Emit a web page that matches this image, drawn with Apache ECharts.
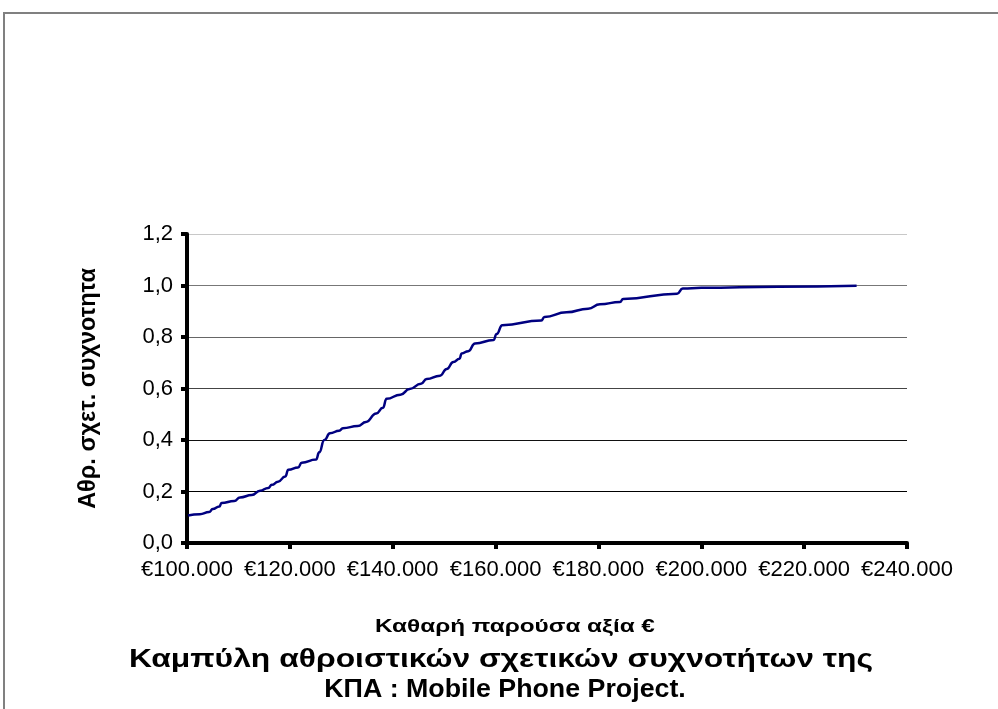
<!DOCTYPE html>
<html>
<head>
<meta charset="utf-8">
<script src="https://cdn.jsdelivr.net/npm/echarts@6/dist/echarts.min.js"></script>
<style>
  html, body { margin: 0; padding: 0; background: #fff; }
  #chart { width: 998px; height: 709px; }
</style>
</head>
<body>
<div id="chart"></div>
<script>
// Net present value (€) samples of the simulated project
const npvValues = [
  100200, 102500, 104300, 105000, 106300, 106700, 109200, 110300, 112600, 114200,
  115800, 116500, 117700, 119100, 119700, 121600, 122300, 125100, 125700, 126700,
  127800, 129600, 130300, 133200, 134800, 136800, 138100, 138800, 141500, 143300,
  145500, 146600, 149200, 150500, 151800, 153000, 153400, 154700, 156000, 159600,
  160200, 161300, 168900, 169500, 173800, 178000, 180300, 184200, 184800, 195300,
  196400, 200000, 215000, 230200
];
// Cumulative relative frequency at each NPV value
const cumFreq = [
  0.107, 0.112, 0.120, 0.132, 0.142, 0.155, 0.163, 0.177, 0.186, 0.203,
  0.214, 0.226, 0.238, 0.258, 0.284, 0.293, 0.312, 0.324, 0.352, 0.400,
  0.426, 0.436, 0.446, 0.454, 0.470, 0.503, 0.525, 0.560, 0.576, 0.598,
  0.618, 0.637, 0.650, 0.676, 0.703, 0.716, 0.736, 0.745, 0.775, 0.788,
  0.812, 0.846, 0.864, 0.878, 0.896, 0.910, 0.927, 0.936, 0.948, 0.968,
  0.988, 0.991, 0.995, 0.999
];
// Axis ranges
const xTicks = [100000, 120000, 140000, 160000, 180000, 200000, 220000, 240000];
const yTicks = [0, 0.2, 0.4, 0.6, 0.8, 1.0, 1.2];

const titleLines = ['Καμπύλη αθροιστικών σχετικών συχνοτήτων της', 'ΚΠΑ : Mobile Phone Project.'];
const xName = 'Καθαρή παρούσα αξία €';
const yName = 'Αθρ. σχετ. συχνοτητα';

const FONT = '"Liberation Sans", Arial, sans-serif';

const chart = echarts.init(document.getElementById('chart'), null, { renderer: 'canvas' });

chart.setOption({
  backgroundColor: '#ffffff',
  animation: false,
  graphic: [
    {
      // outer chart frame
      type: 'rect',
      shape: { x: 4, y: 13, width: 1010, height: 720 },
      style: { fill: 'none', stroke: '#808080', lineWidth: 2 },
      silent: true
    },
    {
      // x axis title, set in a slightly widened face
      type: 'text',
      x: 515, y: 627,
      scaleX: 1.28,
      style: {
        text: xName, x: 0, y: 0, align: 'center', verticalAlign: 'middle',
        font: 'bold 19px ' + FONT, fill: '#000'
      },
      silent: true
    },
    {
      // chart title, first line
      type: 'text',
      x: 501, y: 660,
      scaleX: 1.225,
      style: {
        text: titleLines[0], x: 0, y: 0, align: 'center', verticalAlign: 'middle',
        font: 'bold 26px ' + FONT, fill: '#000'
      },
      silent: true
    },
    {
      // chart title, second line
      type: 'text',
      x: 505, y: 690,
      scaleX: 1.03,
      style: {
        text: titleLines[1], x: 0, y: 0, align: 'center', verticalAlign: 'middle',
        font: 'bold 26px ' + FONT, fill: '#000'
      },
      silent: true
    }
  ],
  grid: { left: 187, right: 91, top: 234, bottom: 166 },
  xAxis: {
    type: 'value',
    min: xTicks[0],
    max: xTicks[xTicks.length - 1],
    interval: xTicks[1] - xTicks[0],
    axisLine: { show: true, lineStyle: { color: '#000', width: 4 } },
    axisTick: { show: true, inside: false, length: 6, lineStyle: { color: '#000', width: 4 } },
    axisLabel: {
      margin: 16,
      fontFamily: FONT, fontSize: 22, color: '#000',
      formatter: v => '€' + Math.round(v / 1000) + '.000'
    },
    splitLine: { show: false }
  },
  yAxis: {
    type: 'value',
    min: yTicks[0],
    max: yTicks[yTicks.length - 1],
    interval: 0.2,
    name: yName,
    nameLocation: 'middle',
    nameGap: 86,
    nameTextStyle: { fontFamily: FONT, fontSize: 23.5, fontWeight: 'bold', color: '#000' },
    axisLine: { show: true, lineStyle: { color: '#000', width: 4 } },
    axisTick: { show: true, inside: false, length: 6, lineStyle: { color: '#000', width: 4 } },
    axisLabel: {
      margin: 14,
      fontFamily: FONT, fontSize: 22, color: '#000',
      formatter: v => v.toFixed(1).replace('.', ',')
    },
    splitLine: {
      show: true,
      lineStyle: { color: ['#000', '#000', '#111', '#444', '#666', '#777', '#c8c8c8'], width: 1 }
    }
  },
  series: [{
    type: 'line',
    data: npvValues.map((v, i) => [v, cumFreq[i]]),
    showSymbol: false,
    smooth: 0.5,
    smoothMonotone: 'x',
    lineStyle: { color: '#000080', width: 2.5 },
    z: 3
  }]
});
</script>
</body>
</html>
